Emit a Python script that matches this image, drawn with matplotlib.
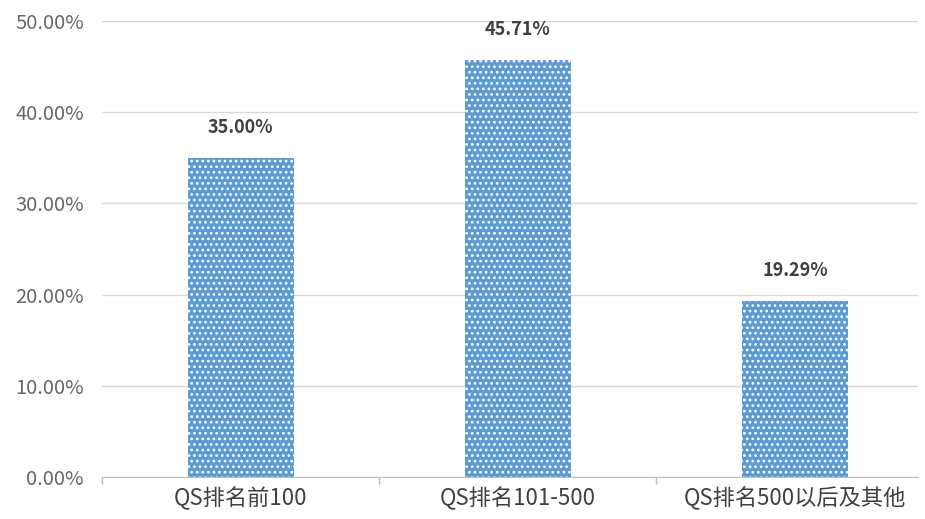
import matplotlib
matplotlib.use("Agg")
import matplotlib.pyplot as plt
from matplotlib.ticker import FixedLocator, FuncFormatter

plt.rcParams['font.family'] = ['Noto Sans CJK SC', 'DejaVu Sans']
plt.rcParams['hatch.color'] = 'white'
plt.rcParams['hatch.linewidth'] = 1.2

categories = ["QS排名前100", "QS排名101-500", "QS排名500以后及其他"]
values = [35.00, 45.71, 19.29]
yticks = [0, 10, 20, 30, 40, 50]

W, H = 925, 519
fig = plt.figure(figsize=(W / 100, H / 100), dpi=100)
left, right, top, bottom = 102, 918, 21, 477
ax = fig.add_axes([left / W, 1 - bottom / H, (right - left) / W, (bottom - top) / H])

x = list(range(len(categories)))
ax.bar(x, values, width=0.383, color='#5b9bd5', edgecolor='white', linewidth=0,
       hatch='...', zorder=3)

for xi, v in zip(x, values):
    ax.annotate(f"{v:.2f}%", (xi, v), xytext=(0, 22), textcoords='offset points',
                ha='center', va='center', fontsize=13, fontweight='bold', color='#404040')

ax.set_xlim(-0.5, 2.444)
ax.set_ylim(0, 50)
ax.set_yticks(yticks)
ax.yaxis.set_major_formatter(FuncFormatter(lambda v, p: f"{v:.2f}%"))
ax.grid(axis='y', color='#d9d9d9', linewidth=1, zorder=0)
ax.set_axisbelow(True)

ax.set_xticks(x)
ax.set_xticklabels(categories)
ax.xaxis.set_minor_locator(FixedLocator([-0.5, 0.5, 1.5]))
ax.tick_params(axis='x', which='major', length=0, pad=7, labelsize=16, labelcolor='#404040')
ax.tick_params(axis='x', which='minor', length=5, color='#bfbfbf', width=1)
ax.tick_params(axis='y', length=0, pad=13, labelsize=14.5, labelcolor='#666666')

for s in ['left', 'right', 'top']:
    ax.spines[s].set_visible(False)
ax.spines['bottom'].set_color('#bfbfbf')
ax.spines['bottom'].set_zorder(4)

fig.savefig("out.png", dpi=100)
